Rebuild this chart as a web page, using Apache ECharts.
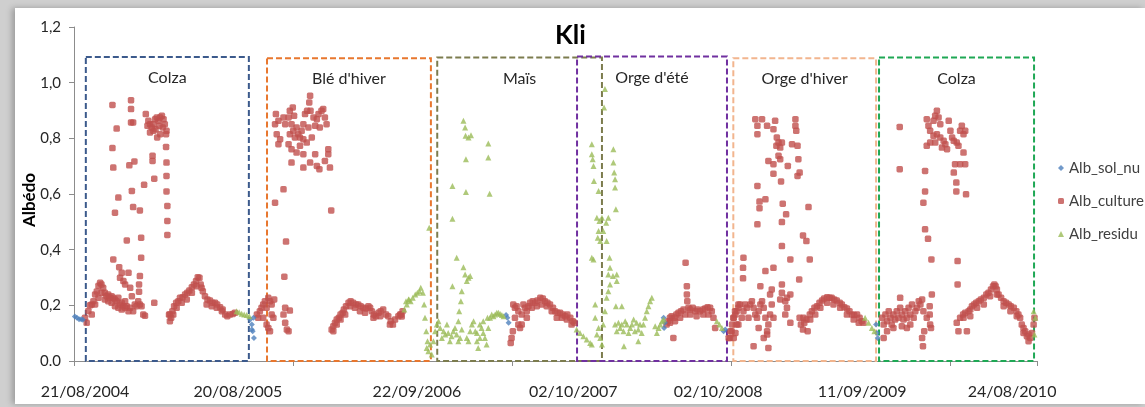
<!DOCTYPE html>
<html>
<head>
<meta charset="utf-8">
<script src="https://cdn.jsdelivr.net/npm/echarts@6/dist/echarts.min.js"></script>
<style>
html,body{margin:0;padding:0;width:1145px;height:407px;overflow:hidden;background:#cfcfcf;}
#panel{position:absolute;left:15px;top:8px;width:1130px;height:396px;background:#fff;box-shadow:-3px 0 6px rgba(0,0,0,0.25);}
#chart{position:absolute;left:0;top:0;width:1145px;height:407px;}
</style>
</head>
<body>
<div id="panel"></div>
<div id="chart"></div>
<script>
// x values: days since 26/07/2004
const xTickLabels = ['21/08/2004','20/08/2005','22/09/2006','02/10/2007','02/10/2008','11/09/2009','24/08/2010'];
const xLabelDays = [26, 388, 812, 1182, 1525, 1866, 2221];
const xTickDays = [0, 519, 1037, 1556, 2074, 2280];
const yTickLabels = ['0.0','0,2','0,4','0,6','0,8','1,0','1,2'];

const boxNames = ['Colza', 'Blé d\'hiver', 'Maïs', 'Orge d\'été', 'Orge d\'hiver', 'Colza'];
const boxStart = [28, 457, 860, 1191, 1561, 1906];
const boxEnd = [414, 845, 1250, 1546, 1899, 2273];
const boxTop = [1.092, 1.088, 1.09, 1.094, 1.088, 1.09];

const albSolNu = [
[2,0.16],[7,0.155],[12,0.15],[17,0.15],[21,0.148],
[417,0.149],[421,0.131],[423,0.107],[426,0.083],[421,0.113],[425,0.155],
[1023,0.165],[1026,0.155],[1029,0.137],
[1396,0.155],[1399,0.137],[1397,0.119],
[1538,0.107],[1542,0.113],
[1899,0.131],[1901,0.101],[1903,0.083]
];

const albCulture = [
// colza 2004-2005
[26,0.155],[30,0.137],[34,0.18],[38,0.2],[42,0.203],[46,0.215],[50,0.239],[54,0.25],[58,0.27],[62,0.281],
[65,0.275],[69,0.263],[73,0.245],[77,0.233],[81,0.239],[85,0.227],[89,0.233],[93,0.227],[97,0.221],[101,0.215],
[105,0.227],[109,0.203],[113,0.209],[117,0.197],[121,0.191],[125,0.197],[129,0.179],[133,0.191],[140,0.179],[144,0.203],
[148,0.197],[152,0.215],[156,0.203],[160,0.197],[164,0.167],
[42,0.167],[50,0.203],[58,0.227],[65,0.245],[73,0.221],[81,0.215],[89,0.209],[97,0.197],[105,0.191],[113,0.185],[121,0.215],
[91,0.92],[101,0.835],[91,0.765],[93,0.695],[105,0.587],[97,0.533],[93,0.365],[107,0.337],[113,0.317],[109,0.299],
[117,0.287],[125,0.433],[129,0.317],[121,0.275],[133,0.263],[135,0.937],[135,0.905],[135,0.857],[140,0.857],[131,0.703],
[143,0.717],[137,0.611],[140,0.553],[137,0.233],[156,0.541],[159,0.443],[159,0.371],[156,0.305],[154,0.275],[154,0.249],
[166,0.633],[168,0.163],
[170,0.887],[176,0.863],[180,0.851],[184,0.839],[188,0.851],[192,0.869],[196,0.875],[200,0.863],[204,0.875],[208,0.881],
[212,0.869],[215,0.851],[219,0.827],[197,0.803],[204,0.815],[188,0.827],[180,0.821],[174,0.845],[210,0.839],[218,0.815],
[202,0.845],[193,0.833],[186,0.737],[186,0.719],[190,0.655],[190,0.209],[218,0.769],[219,0.713],[219,0.665],[219,0.609],
[221,0.557],[221,0.503],[221,0.453],
[225,0.167],[227,0.143],[230,0.155],[233,0.179],[237,0.197],[242,0.209],[247,0.215],[251,0.227],[257,0.229],[263,0.239],
[268,0.245],[273,0.253],[279,0.265],[284,0.275],[289,0.287],[293,0.301],[297,0.299],[300,0.275],[305,0.251],[310,0.233],
[316,0.221],[322,0.217],[328,0.209],[334,0.209],[339,0.203],[346,0.193],[352,0.185],[358,0.167],[363,0.161],[369,0.167],
[376,0.169],[381,0.173],
[227,0.167],[235,0.167],[243,0.191],[255,0.209],[267,0.221],[279,0.245],[290,0.269],[302,0.263],[314,0.203],[326,0.197],
[338,0.191],[350,0.179],
// blé d'hiver
[433,0.167],[436,0.155],[440,0.179],[444,0.191],[448,0.203],[452,0.215],[456,0.191],[460,0.227],[464,0.215],[468,0.203],
[472,0.155],[448,0.155],[456,0.131],[460,0.119],[464,0.107],[468,0.167],[474,0.221],[476,0.569],[496,0.617],[502,0.429],
[498,0.303],[500,0.191],[511,0.181],[496,0.167],[500,0.137],[504,0.113],[508,0.107],
[478,0.887],[484,0.863],[476,0.851],[480,0.815],[488,0.797],[484,0.779],[496,0.875],[500,0.851],[508,0.875],[511,0.899],
[518,0.911],[521,0.881],[515,0.851],[511,0.815],[519,0.827],[523,0.803],[527,0.839],[531,0.815],[535,0.803],[539,0.827],
[543,0.851],[547,0.887],[552,0.899],[559,0.953],[557,0.929],[560,0.899],[567,0.875],[571,0.845],[575,0.869],[579,0.887],
[582,0.839],[586,0.899],[590,0.905],[594,0.875],[598,0.851],[515,0.761],[515,0.713],[527,0.749],[535,0.773],[543,0.743],
[551,0.785],[543,0.695],[559,0.713],[571,0.743],[575,0.701],[581,0.689],[594,0.719],[602,0.743],[606,0.695],[602,0.761],
[543,0.797],[555,0.839],[563,0.803],[508,0.779],[609,0.541],
[610,0.113],[614,0.125],[618,0.137],[622,0.149],[627,0.155],[631,0.167],[636,0.173],[639,0.185],[644,0.197],[650,0.209],
[655,0.215],[661,0.209],[668,0.203],[673,0.203],[679,0.197],[685,0.191],[691,0.189],[697,0.197],[701,0.191],[705,0.179],
[710,0.167],[715,0.161],[721,0.173],[726,0.179],[732,0.185],[739,0.167],[744,0.161],[750,0.143],[755,0.131],[760,0.149],
[768,0.161],[774,0.167],[778,0.179],
[614,0.107],[622,0.131],[631,0.149],[642,0.167],[654,0.197],[665,0.191],[677,0.179],[689,0.173],[709,0.155],[725,0.161],
[748,0.131],[772,0.167],[776,0.16],
// maïs
[1034,0.065],[1036,0.083],[1039,0.107],[1040,0.203],[1044,0.191],[1048,0.197],[1052,0.179],[1056,0.119],[1060,0.131],[1064,0.203],
[1068,0.191],[1072,0.179],[1076,0.197],[1080,0.209],[1086,0.215],[1092,0.209],[1097,0.217],[1104,0.227],[1110,0.225],[1115,0.215],
[1121,0.209],[1127,0.203],[1134,0.191],[1139,0.179],[1145,0.173],[1151,0.173],[1157,0.167],[1163,0.161],[1168,0.167],[1175,0.155],
[1181,0.143],[1185,0.137],
[1044,0.155],[1052,0.131],[1060,0.167],[1072,0.155],[1084,0.191],[1096,0.197],[1107,0.203],[1119,0.197],[1131,0.179],[1143,0.155],
[1155,0.155],[1167,0.149],[1178,0.131],
// orge d'été
[1403,0.131],[1407,0.143],[1411,0.155],[1415,0.161],[1419,0.083],[1421,0.155],[1426,0.167],[1431,0.173],[1437,0.179],[1443,0.185],
[1448,0.353],[1451,0.269],[1451,0.239],[1452,0.215],[1455,0.191],[1459,0.185],[1465,0.191],[1471,0.179],[1476,0.185],[1482,0.179],
[1489,0.185],[1494,0.189],[1500,0.193],[1506,0.191],[1510,0.179],[1514,0.155],[1518,0.119],
[1411,0.137],[1423,0.143],[1435,0.155],[1447,0.167],[1459,0.167],[1474,0.161],[1490,0.167],[1502,0.167],
[1553,0.083],[1557,0.107],[1561,0.155],[1565,0.179],[1569,0.131],[1573,0.203],
// orge d'hiver
[1550,0.083],[1554,0.107],[1558,0.131],[1562,0.155],[1566,0.167],[1569,0.179],[1573,0.191],[1577,0.203],[1581,0.155],[1585,0.179],
[1589,0.203],[1593,0.191],[1597,0.155],[1601,0.203],[1605,0.215],[1609,0.191],[1613,0.167],[1617,0.155],[1621,0.179],[1625,0.203],
[1629,0.215],[1633,0.191],[1637,0.155],[1641,0.107],[1644,0.131],[1648,0.167],[1652,0.203],
[1562,0.083],[1566,0.101],[1573,0.131],[1609,0.053],[1644,0.047],[1633,0.083],[1641,0.095],[1621,0.119],
[1585,0.371],[1584,0.335],[1584,0.297],[1618,0.629],[1623,0.573],[1637,0.581],[1623,0.549],[1618,0.491],[1625,0.269],[1613,0.869],
[1618,0.845],[1618,0.815],[1629,0.869],[1641,0.845],[1660,0.863],[1656,0.833],[1664,0.803],[1668,0.785],[1672,0.767],[1676,0.785],
[1663,0.773],[1668,0.737],[1672,0.725],[1644,0.719],[1656,0.707],[1656,0.673],[1674,0.645],[1690,0.701],[1678,0.565],[1686,0.527],
[1676,0.499],[1676,0.413],[1637,0.323],[1656,0.335],[1652,0.257],[1648,0.239],[1676,0.245],[1696,0.239],[1696,0.365],[1700,0.779],
[1708,0.869],[1708,0.845],[1710,0.827],[1713,0.773],[1715,0.725],[1718,0.677],[1713,0.665],[1684,0.215],[1688,0.191],[1684,0.167],
[1696,0.137],[1717,0.293],[1726,0.451],[1734,0.431],[1742,0.365],[1739,0.553],[1676,0.275],[1656,0.155],[1672,0.221],[1688,0.227],
[1718,0.155],[1721,0.131],[1726,0.113],[1729,0.137],[1734,0.149],[1737,0.107],[1742,0.167],[1747,0.179],[1753,0.191],[1759,0.197],
[1765,0.209],[1771,0.217],[1776,0.225],[1783,0.229],[1789,0.227],[1794,0.227],[1800,0.221],[1806,0.217],[1813,0.209],[1818,0.203],
[1824,0.193],[1830,0.189],[1836,0.179],[1842,0.167],[1847,0.165],[1854,0.167],[1860,0.155],[1865,0.143],[1869,0.137],
[1727,0.155],[1743,0.149],[1755,0.167],[1767,0.191],[1783,0.209],[1798,0.203],[1814,0.191],[1830,0.167],[1846,0.149],[1858,0.137],
// colza 2009-2010
[1913,0.155],[1917,0.131],[1921,0.167],[1925,0.143],[1929,0.179],[1933,0.155],[1936,0.131],[1940,0.167],[1944,0.149],[1948,0.179],
[1952,0.155],[1956,0.191],[1960,0.167],[1964,0.149],[1968,0.179],[1972,0.155],[1976,0.191],[1980,0.167],[1984,0.203],[1988,0.155],
[1992,0.179],[1996,0.191],[2000,0.215],[2004,0.203],[2008,0.221],[2011,0.179],
[1917,0.083],[1925,0.107],[1940,0.119],[1960,0.125],[1980,0.131],[1956,0.227],[1972,0.119],[2008,0.083],[2010,0.053],[2013,0.107],
[2019,0.155],[2026,0.197],[2026,0.167],[2027,0.131],[2029,0.119],[2031,0.239],
[1955,0.841],[1955,0.689],[2015,0.683],[2015,0.609],[2011,0.569],[2015,0.473],[2022,0.439],[2030,0.365],[2019,0.773],
[2019,0.869],[2023,0.845],[2027,0.827],[2035,0.863],[2039,0.881],[2043,0.899],[2047,0.875],[2051,0.851],[2043,0.815],[2051,0.803],
[2059,0.791],[2055,0.767],[2063,0.779],[2067,0.761],[2071,0.863],[2075,0.827],[2079,0.803],[2083,0.791],[2090,0.785],[2094,0.773],
[2098,0.827],[2102,0.845],[2106,0.815],[2110,0.827],[2106,0.749],[2110,0.707],[2098,0.707],[2086,0.707],[2035,0.809],[2039,0.785],
[2027,0.785],[2083,0.677],[2089,0.641],[2089,0.609],[2112,0.599],[2092,0.359],[2092,0.275],
[2090,0.137],[2094,0.107],[2098,0.155],[2105,0.167],[2110,0.173],[2114,0.107],[2118,0.179],[2122,0.185],[2126,0.197],[2131,0.203],
[2136,0.209],[2142,0.215],[2147,0.221],[2154,0.227],[2160,0.239],[2165,0.245],[2171,0.257],[2176,0.269],[2179,0.275],[2182,0.269],
[2185,0.257],[2189,0.239],[2195,0.227],[2201,0.215],[2207,0.209],[2213,0.203],[2218,0.197],[2225,0.191],[2231,0.179],[2236,0.167],
[2240,0.155],[2244,0.131],[2248,0.119],[2252,0.107],[2256,0.089],[2260,0.071],[2264,0.083],[2268,0.101],[2272,0.131],[2274,0.155],
[2106,0.155],[2122,0.161],[2138,0.191],[2154,0.203],[2169,0.233],[2185,0.239],[2201,0.197],[2217,0.179],[2232,0.161],[2248,0.101],
[2260,0.095]
];

const albResidu = [
[385,0.179],[391,0.175],[397,0.17],[403,0.167],[409,0.165],[415,0.161],
[782,0.185],[788,0.203],[793,0.221],
[786,0.215],[792,0.221],[797,0.215],[802,0.227],[808,0.239],[813,0.245],[818,0.251],[821,0.263],[826,0.245],[829,0.203],
[831,0.155],[834,0.107],[837,0.071],[839,0.035],[841,0.479],[835,0.047],[843,0.059],[847,0.023],[851,0.071],[855,0.107],
[859,0.131],[863,0.143],[867,0.119],[871,0.083],[875,0.107],[879,0.095],[883,0.131],[886,0.101],[890,0.071],[894,0.089],
[898,0.107],[902,0.119],[906,0.095],[910,0.071],[914,0.083],[918,0.113],
[896,0.629],[896,0.511],[896,0.269],[906,0.371],[922,0.863],[926,0.839],[927,0.809],[934,0.803],[940,0.811],[928,0.725],
[928,0.607],[981,0.781],[981,0.731],[984,0.601],[922,0.337],[926,0.311],[930,0.287],[934,0.299],[938,0.305],[918,0.251],
[916,0.215],[912,0.179],[910,0.143],
[930,0.083],[934,0.071],[938,0.107],[942,0.131],[946,0.143],[950,0.107],[954,0.071],[957,0.047],[961,0.083],[965,0.119],
[969,0.143],[973,0.083],[977,0.059],[981,0.119],[985,0.155],[989,0.167],[993,0.161],[997,0.167],[1001,0.173],[1005,0.173],
[1009,0.169],[1013,0.165],[1017,0.161],[969,0.101],[961,0.131],[979,0.155],[954,0.101],
[1190,0.113],[1198,0.101],[1206,0.089],[1214,0.077],[1222,0.065],[1226,0.059],
[1226,0.779],[1226,0.743],[1228,0.725],[1230,0.701],[1231,0.647],[1242,0.611],[1238,0.515],[1244,0.503],[1242,0.467],[1240,0.443],
[1246,0.431],[1226,0.371],[1230,0.365],[1250,0.515],[1253,0.467],[1257,0.977],[1255,0.911],[1260,0.497],[1261,0.431],[1265,0.515],
[1277,0.761],[1277,0.713],[1279,0.677],[1281,0.653],[1281,0.623],[1283,0.545],[1268,0.371],[1269,0.335],[1265,0.311],[1276,0.305],
[1285,0.311],[1285,0.287],[1234,0.155],[1234,0.203],[1238,0.095],[1246,0.083],[1250,0.059],[1242,0.119],[1253,0.131],[1257,0.179],
[1261,0.227],[1265,0.251],[1269,0.275],
[1281,0.131],[1283,0.197],[1297,0.197],[1285,0.107],[1289,0.137],[1293,0.119],[1297,0.131],[1301,0.107],[1305,0.143],[1309,0.131],
[1313,0.101],[1317,0.119],[1321,0.131],[1325,0.149],[1328,0.107],[1332,0.137],[1336,0.113],[1340,0.131],[1344,0.101],[1302,0.053],
[1336,0.071],[1348,0.131],[1352,0.155],[1356,0.179],[1360,0.197],[1364,0.215],[1368,0.227],[1376,0.125],[1380,0.101],[1384,0.119],
[1388,0.131],[1392,0.143],[1396,0.149],
[1522,0.143],[1528,0.131],[1534,0.119],
[1873,0.155],[1881,0.137],[1889,0.119],[1895,0.107],
[2272,0.179],[2276,0.155],[2274,0.095]
];

const FONT = 'Lato, "Liberation Sans", sans-serif';
const boxColors = ['#3C5A8C', '#E8772E', '#7C7C4E', '#7030A0', '#F2B58E', '#1FA855'];

const areas = boxNames.map((n, i) => [
  {
    name: n, xAxis: boxStart[i], yAxis: boxTop[i],
    itemStyle: { color: 'rgba(0,0,0,0)', borderColor: boxColors[i], borderWidth: 2, borderType: [6, 3] },
    label: { show: true, position: 'insideTop', distance: 14, color: '#262626', fontSize: 16, fontFamily: FONT }
  },
  { xAxis: boxEnd[i], yAxis: 0 }
]);

const chart = echarts.init(document.getElementById('chart'), null, { renderer: 'canvas' });
chart.setOption({
  animation: false,
  backgroundColor: 'transparent',
  title: {
    text: 'Kli', left: 550, top: 18,
    textStyle: { fontSize: 26, fontWeight: 'bold', color: '#000', fontFamily: FONT }
  },
  legend: {
    orient: 'vertical', left: 1053, top: 154, itemWidth: 6, itemHeight: 6, itemGap: 15,
    textStyle: { fontSize: 15, color: '#404040', fontFamily: FONT, lineHeight: 18 },
    data: ['Alb_sol_nu', 'Alb_culture', 'Alb_residu']
  },
  grid: { left: 74, right: 108, top: 27, bottom: 46 },
  xAxis: {
    type: 'value', min: 0, max: 2280,
    splitLine: { show: false },
    axisLine: { lineStyle: { color: '#8c8c8c', width: 1 } },
    axisTick: { show: true, length: 5, customValues: xTickDays, lineStyle: { color: '#8c8c8c' } },
    axisLabel: {
      customValues: xLabelDays, margin: 23, fontSize: 16, color: '#262626', fontFamily: FONT,
      formatter: v => { const k = xLabelDays.indexOf(v); return k >= 0 ? xTickLabels[k] : ''; }
    }
  },
  yAxis: {
    type: 'value', min: 0, max: 1.2, interval: 0.2,
    name: 'Albédo', nameLocation: 'middle', nameGap: 36, nameMoveOverlap: false,
    nameTextStyle: { fontSize: 17, fontWeight: 'bold', color: '#000', fontFamily: FONT, padding: [0, 12, 0, 0] },
    splitLine: { show: false },
    axisLine: { show: true, lineStyle: { color: '#8c8c8c', width: 1 } },
    axisTick: { show: true, length: 5, lineStyle: { color: '#8c8c8c' } },
    axisLabel: {
      margin: 13, fontSize: 15, color: '#262626', fontFamily: FONT,
      formatter: v => yTickLabels[Math.round(v / 0.2)]
    }
  },
  series: [
    {
      name: 'Alb_sol_nu', type: 'scatter', data: albSolNu, symbol: 'diamond', symbolSize: 6,
      itemStyle: { color: '#4F81BD' }, z: 3
    },
    {
      name: 'Alb_culture', type: 'scatter', data: albCulture, symbol: 'roundRect', symbolSize: 6.5,
      itemStyle: { color: '#C0504D' }, z: 2,
      markArea: { silent: true, data: areas }
    },
    {
      name: 'Alb_residu', type: 'scatter', data: albResidu, symbol: 'triangle', symbolSize: 6,
      itemStyle: { color: '#9BBB59' }, z: 4
    }
  ]
});
</script>
</body>
</html>
